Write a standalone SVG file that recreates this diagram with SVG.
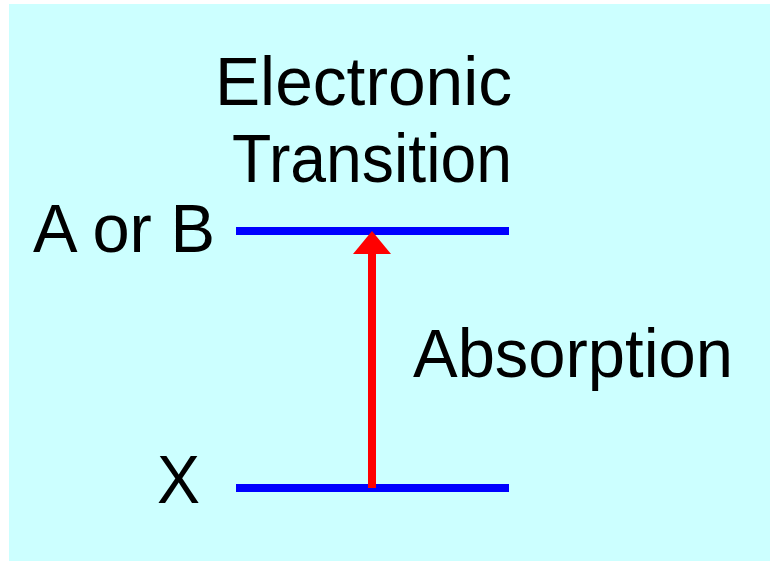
<svg xmlns="http://www.w3.org/2000/svg" width="770" height="561" viewBox="0 0 770 561">
<style>
.t{font-family:"Liberation Sans","DejaVu Sans",sans-serif;font-size:68px;fill:#000}
.lvl{stroke:#0000FF;stroke-width:8;fill:none}
</style>
<rect x="0" y="0" width="770" height="561" fill="#FFFFFF"/>
<rect x="9" y="4" width="761" height="557" fill="#CCFFFF"/>
<g id="title">
<text class="t" x="215" y="105" textLength="297" lengthAdjust="spacingAndGlyphs">Electronic</text>
<text class="t" x="232" y="182" textLength="280" lengthAdjust="spacingAndGlyphs">Transition</text>
</g>
<g id="upper">
<line class="lvl" x1="236" y1="231" x2="509" y2="231"/>
<text class="t" x="33" y="252" textLength="182" lengthAdjust="spacingAndGlyphs">A or B</text>
</g>
<g id="lower">
<line class="lvl" x1="236" y1="488" x2="509" y2="488"/>
<text class="t" x="157" y="503" textLength="43" lengthAdjust="spacingAndGlyphs">X</text>
</g>
<g id="connectors">
<line x1="372" y1="488" x2="372" y2="252" stroke="#FF0000" stroke-width="8"/>
<polygon points="372,231 353,254 391,254" fill="#FF0000"/>
<text class="t" x="413" y="377" textLength="320" lengthAdjust="spacingAndGlyphs">Absorption</text>
</g>
</svg>
